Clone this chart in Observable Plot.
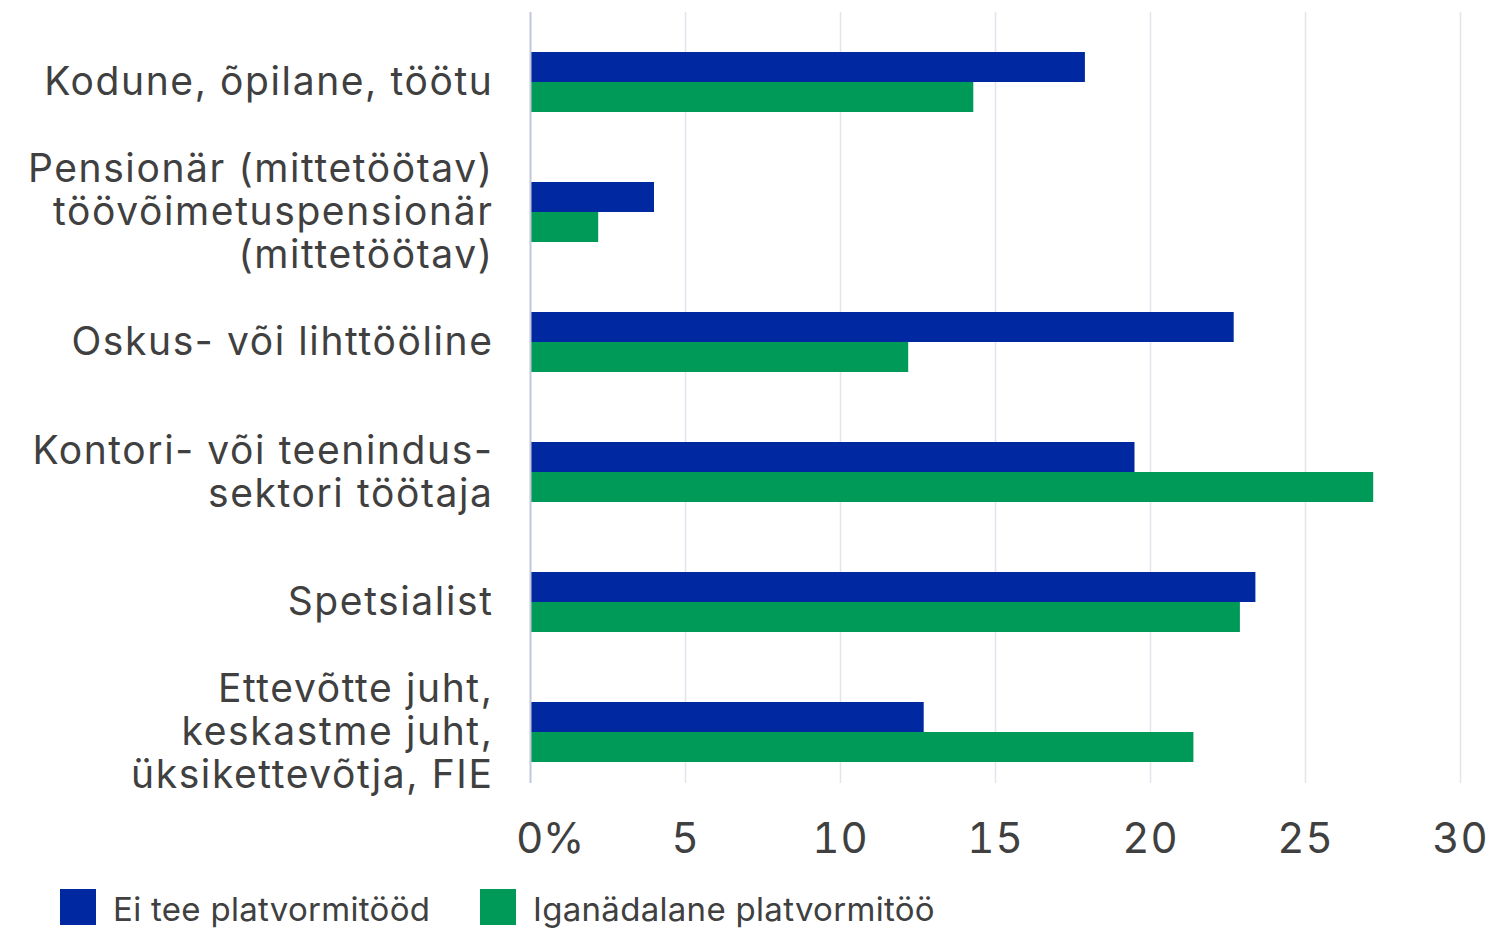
<!DOCTYPE html>
<html>
<head>
<meta charset="utf-8">
<script src="https://cdn.jsdelivr.net/npm/d3@7"></script>
<script src="https://cdn.jsdelivr.net/npm/@observablehq/plot@0.6"></script>
<style>
  html, body { margin: 0; padding: 0; background: #fff; }
  body { font-family: Inter, "Noto Sans", sans-serif; color: #404040; width: 1493px; height: 935px; overflow: hidden; }
  #legend { display: flex; align-items: center; margin-top: 9px; padding-left: 60px; height: 36px; }
  .item { display: flex; align-items: center; font-size: 33px; line-height: 36px; color: #404040; }
  .item span { position: relative; top: 2px; letter-spacing: 0.3px; }
  .swatch { width: 36px; height: 36px; margin-right: 17px; }
  g[aria-label="y-axis tick label"] text { letter-spacing: 1.6px; }
  g[aria-label="x-axis tick label"] text { letter-spacing: 1px; }
</style>
</head>
<body>
<div id="chart"></div>
<div id="legend"></div>
<script>
const categories = [
  "Kodune, õpilane, töötu",
  "Pensionär (mittetöötav)\ntöövõimetuspensionär\n(mittetöötav)",
  "Oskus- või lihttööline",
  "Kontori- või teenindus-\nsektori töötaja",
  "Spetsialist",
  "Ettevõtte juht,\nkeskastme juht,\nüksikettevõtja, FIE"
];
const seriesNames = ["Ei tee platvormitööd", "Iganädalane platvormitöö"];
const noPlatformWork = [17.9, 4.0, 22.7, 19.5, 23.4, 12.7];
const weeklyPlatformWork = [14.3, 2.2, 12.2, 27.2, 22.9, 21.4];
const xTicks = [0, 5, 10, 15, 20, 25, 30];
const colors = ["#0028a0", "#009a58"];

const rowsA = categories.map((c, i) => ({category: c, value: noPlatformWork[i]}));
const rowsB = categories.map((c, i) => ({category: c, value: weeklyPlatformWork[i]}));

const chart = Plot.plot({
  width: 1493,
  height: 880,
  marginLeft: 530,
  marginRight: 33,
  marginTop: 12,
  marginBottom: 97,
  style: {fontFamily: "Inter, 'Noto Sans', sans-serif", background: "#fff", overflow: "visible"},
  x: {domain: [0, 30]},
  y: {domain: categories, range: [16, 797], paddingInner: 70 / 130, paddingOuter: 35 / 130},
  marks: [
    Plot.ruleX(xTicks.slice(1), {stroke: "#e3e4ec", strokeWidth: 1.5}),
    Plot.barX(rowsA, {x: "value", y: "category", fill: colors[0], insetBottom: 30}),
    Plot.barX(rowsB, {x: "value", y: "category", fill: colors[1], insetTop: 30}),
    Plot.ruleX([0], {stroke: "#c3c7da", strokeWidth: 2}),
    Plot.axisY({tickSize: 0, tickPadding: 37, fontSize: 39, lineHeight: 1.1, dy: -1, fill: "#404040", label: null}),
    Plot.axisX(xTicks.slice(1), {tickSize: 0, tickPadding: 40, fontSize: 42, fill: "#404040", label: null}),
    Plot.text([xTicks[0]], {x: d => d, text: d => d + "%", frameAnchor: "bottom", lineAnchor: "top", dy: 40, dx: -14, textAnchor: "start", fontSize: 42, fill: "#404040"})
  ]
});
document.getElementById("chart").appendChild(chart);

const legend = document.getElementById("legend");
seriesNames.forEach((name, i) => {
  const item = document.createElement("div");
  item.className = "item";
  if (i === 0) item.style.width = "420px";
  const sw = document.createElement("div");
  sw.className = "swatch";
  sw.style.background = colors[i];
  const label = document.createElement("span");
  label.textContent = name;
  item.appendChild(sw);
  item.appendChild(label);
  legend.appendChild(item);
});
</script>
</body>
</html>
